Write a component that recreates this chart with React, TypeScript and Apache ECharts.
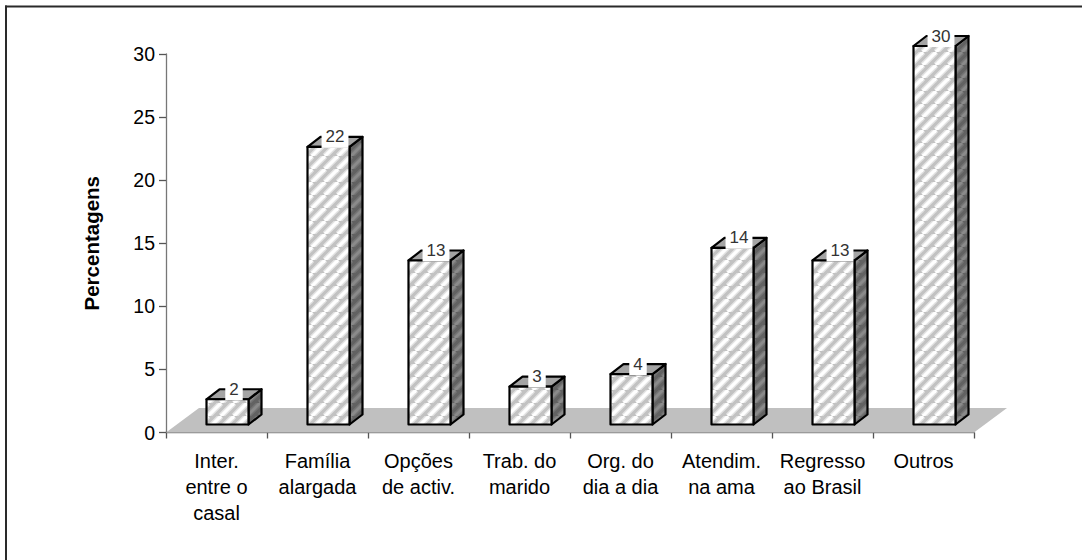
import React, { useEffect, useRef } from "react";
import * as echarts from "echarts";

const categories = [
  "Inter.\nentre o\ncasal",
  "Família\nalargada",
  "Opções\nde activ.",
  "Trab. do\nmarido",
  "Org. do\ndia a dia",
  "Atendim.\nna ama",
  "Regresso\nao Brasil",
  "Outros",
];
const values = [2, 22, 13, 3, 4, 14, 13, 30];
const yMin = 0;
const yMax = 30;
const yInterval = 5;
const yAxisName = "Percentagens";

const FONT = "'Liberation Sans', Arial, sans-serif";

function makeHatch(bg: string, soft: string, stripe: string, size: number, w1: number, w2: number) {
  const c = document.createElement("canvas");
  c.width = size;
  c.height = size;
  const g = c.getContext("2d")!;
  g.fillStyle = bg;
  g.fillRect(0, 0, size, size);
  const draw = (col: string, w: number) => {
    g.strokeStyle = col;
    g.lineWidth = w;
    for (const o of [-size, 0, size]) {
      g.beginPath();
      g.moveTo(o, size);
      g.lineTo(o + size, 0);
      g.stroke();
    }
  };
  draw(soft, w1);
  draw(stripe, w2);
  return c;
}

export default function App() {
  const ref = useRef<HTMLDivElement>(null);

  useEffect(() => {
    if (!ref.current) return;
    const chart = echarts.init(ref.current, null, { renderer: "svg" });
    const frontPat = { image: makeHatch("#c2c2c2", "#e4e4e4", "#ffffff", 13, 6, 3.2), repeat: "repeat" };
    const sidePat = { image: makeHatch("#626262", "#747474", "#8a8a8a", 13, 6, 3), repeat: "repeat" };

    const DX = 13;
    const DY = -10;
    const FLOOR_DX = 33;
    const FLOOR_DY = -24.5;

    const option: any = {
      animation: false,
      backgroundColor: "#ffffff",
      grid: { left: 166, right: 108, top: 54, bottom: 127.5, containLabel: false },
      xAxis: {
        type: "category",
        data: categories,
        axisLine: { lineStyle: { color: "#777", width: 1.3 } },
        axisTick: { show: true, length: 6, lineStyle: { color: "#555", width: 1.3 } },
        axisLabel: {
          interval: 0,
          color: "#000",
          fontSize: 20,
          fontFamily: FONT,
          lineHeight: 26,
          margin: 15,
        },
        splitLine: { show: false },
      },
      yAxis: {
        type: "value",
        min: yMin,
        max: yMax,
        interval: yInterval,
        name: yAxisName,
        nameLocation: "middle",
        nameRotate: 90,
        nameGap: 64,
        nameTextStyle: { fontSize: 20.5, fontWeight: "bold", fontFamily: FONT, color: "#000" },
        axisLine: { show: true, lineStyle: { color: "#777", width: 1.3 } },
        axisTick: { show: true, length: 7, lineStyle: { color: "#555", width: 1.3 } },
        axisLabel: { color: "#000", fontSize: 19.5, fontFamily: FONT, margin: 11 },
        splitLine: { show: false },
      },
      graphic: [
        {
          type: "line",
          shape: { x1: 5, y1: 6.5, x2: 1082, y2: 6.5 },
          style: { stroke: "#2a2a2a", lineWidth: 2 },
          z: 100,
        },
        {
          type: "line",
          shape: { x1: 6, y1: 5.5, x2: 6, y2: 560 },
          style: { stroke: "#2a2a2a", lineWidth: 2 },
          z: 100,
        },
      ],
      series: [
        {
          type: "custom",
          z: 1,
          silent: true,
          clip: false,
          data: [[0, 0]],
          renderItem: (params: any, api: any) => {
            const c = api.coord([0, 0]);
            const bw = api.size([1, 0])[0];
            const xL = c[0] - bw / 2;
            const xR = xL + bw * categories.length;
            const y0 = c[1];
            return {
              type: "polygon",
              shape: {
                points: [
                  [xL, y0],
                  [xR, y0],
                  [xR + FLOOR_DX, y0 + FLOOR_DY],
                  [xL + FLOOR_DX, y0 + FLOOR_DY],
                ],
              },
              style: { fill: "#c0c0c0", stroke: "none" },
            };
          },
        },
        {
          type: "custom",
          z: 3,
          clip: false,
          data: values.map((v, i) => [i, v]),
          renderItem: (params: any, api: any) => {
            const i = api.value(0);
            const v = api.value(1);
            const base = api.coord([i, 0]);
            const top = api.coord([i, v]);
            const cx = base[0];
            const x1 = cx - 10;
            const x2 = cx + 32;
            const yb = base[1] - 8;
            const yt = top[1] - 8;
            const stroke = { stroke: "#000", lineWidth: 2.2, lineJoin: "round" };
            return {
              type: "group",
              children: [
                {
                  type: "polygon",
                  shape: {
                    points: [
                      [x2, yt],
                      [x2 + DX, yt + DY],
                      [x2 + DX, yb + DY],
                      [x2, yb],
                    ],
                  },
                  style: { fill: sidePat, ...stroke },
                },
                {
                  type: "polygon",
                  shape: {
                    points: [
                      [x1, yt],
                      [x1 + DX, yt + DY],
                      [x2 + DX, yt + DY],
                      [x2, yt],
                    ],
                  },
                  style: { fill: "#a4a4a4", ...stroke },
                },
                {
                  type: "rect",
                  shape: { x: x1, y: yt, width: x2 - x1, height: yb - yt },
                  style: { fill: frontPat, ...stroke },
                },
                {
                  type: "text",
                  x: (x1 + x2 + DX) / 2,
                  y: yt + DY,
                  style: {
                    text: String(v),
                    fontSize: 17,
                    fontFamily: FONT,
                    fill: "#333",
                    align: "center",
                    verticalAlign: "middle",
                    backgroundColor: "#ffffff",
                    padding: [2, 4, 3, 4],
                  },
                },
              ],
            };
          },
        },
      ],
    };
    chart.setOption(option);
    return () => chart.dispose();
  }, []);

  return (
    <div
      ref={ref}
      style={{ position: "absolute", left: 0, top: 0, width: 1082, height: 560 }}
    />
  );
}
